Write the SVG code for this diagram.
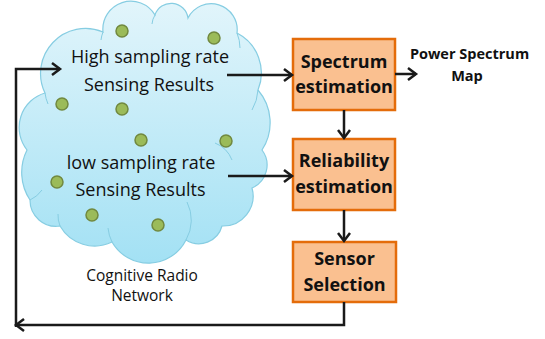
<svg xmlns="http://www.w3.org/2000/svg" width="545" height="339" viewBox="0 0 545 339">
<defs>
<linearGradient id="cg" x1="0" y1="0" x2="0" y2="1">
<stop offset="0" stop-color="#e2f5fb"/>
<stop offset="1" stop-color="#a3e1f4"/>
</linearGradient>
<marker id="ah" markerUnits="userSpaceOnUse" markerWidth="12" markerHeight="14" refX="9" refY="7" orient="auto">
<path d="M1,1 L9,7 L1,13" fill="none" stroke="#1a1a1a" stroke-width="2.5"/>
</marker>
<style>
.box{fill:#fac090;stroke:#e46c0a;stroke-width:2.5}
.bt{font-family:"Open Sans","Liberation Sans",sans-serif;font-weight:bold;font-size:18px;fill:#111;text-anchor:middle}
.ct{font-family:"Open Sans","Liberation Sans",sans-serif;font-size:18px;fill:#111;text-anchor:middle}
.lt{font-family:"Open Sans","Liberation Sans",sans-serif;font-size:15.5px;fill:#111;text-anchor:middle}
.pt{font-family:"Open Sans","Liberation Sans",sans-serif;font-weight:bold;font-size:14.5px;fill:#111;text-anchor:middle}
.dot{fill:#9bbb59;stroke:#71893f;stroke-width:1.5}
.ln{fill:none;stroke:#1a1a1a;stroke-width:2.5}
.inner{fill:none;stroke:#86cde2;stroke-width:1}
</style>
</defs>
<g id="cloud">
<path d="M45,93 A45,45 0 0 1 103,32 A28,28 0 0 1 155,15 A17,17 0 0 1 188,18 A26,26 0 0 1 237,33 A45,45 0 0 1 258,90 A50,50 0 0 1 262,150 A25,25 0 0 1 252,188 A30,30 0 0 1 222,226 A24,24 0 0 1 186,240 A42,42 0 0 1 112,242 A40,40 0 0 1 60,226 A26,26 0 0 1 30,200 A50,50 0 0 1 27,150 A36,36 0 0 1 45,93 Z" fill="url(#cg)" stroke="#86cde2" stroke-width="1.2"/>
<path class="inner" d="M103,32 A30,30 0 0 0 101,40"/>
<path class="inner" d="M155,15 A20,20 0 0 0 152,24"/>
<path class="inner" d="M237,33 A40,40 0 0 1 240,48"/>
<path class="inner" d="M258,90 A45,45 0 0 1 252,110"/>
<path class="inner" d="M215,143 A30,30 0 0 1 232,160"/>
<path class="inner" d="M187,202 A40,40 0 0 1 186,240"/>
<path class="inner" d="M112,242 A40,40 0 0 1 108,228"/>
<path class="inner" d="M60,226 A30,30 0 0 1 58,214"/>
<path class="inner" d="M30,200 A30,30 0 0 0 42,190"/>
<path class="inner" d="M45,93 A40,40 0 0 0 48,104"/>
<circle class="dot" cx="122" cy="31" r="6"/>
<circle class="dot" cx="214" cy="38" r="6"/>
<circle class="dot" cx="62" cy="104" r="6"/>
<circle class="dot" cx="122" cy="109" r="6"/>
<circle class="dot" cx="141" cy="140" r="6"/>
<circle class="dot" cx="226" cy="141" r="6"/>
<circle class="dot" cx="57" cy="182" r="6"/>
<circle class="dot" cx="92" cy="215" r="6"/>
<circle class="dot" cx="158" cy="225" r="6"/>
<text class="ct" x="150" y="63">High sampling rate</text>
<text class="ct" x="149" y="90.5">Sensing Results</text>
<text class="ct" x="141" y="169">low sampling rate</text>
<text class="ct" x="140.5" y="195.5">Sensing Results</text>
<text class="lt" x="142" y="280.5">Cognitive Radio</text>
<text class="lt" x="142" y="301">Network</text>
</g>
<g id="spectrum">
<rect class="box" x="293" y="39" width="102" height="71"/>
<text class="bt" x="344" y="68">Spectrum</text>
<text class="bt" x="344" y="93">estimation</text>
</g>
<g id="reliability">
<rect class="box" x="293" y="139" width="102" height="71"/>
<text class="bt" x="344" y="167">Reliability</text>
<text class="bt" x="344" y="193">estimation</text>
</g>
<g id="sensor">
<rect class="box" x="293" y="242" width="103" height="60"/>
<text class="bt" x="344.5" y="265">Sensor</text>
<text class="bt" x="344.5" y="291">Selection</text>
</g>
<g id="psm">
<text class="pt" x="469.5" y="59">Power Spectrum</text>
<text class="pt" x="467" y="80.5">Map</text>
</g>
<g id="connectors">
<path class="ln" d="M227,75 H292" marker-end="url(#ah)"/>
<path class="ln" d="M228,176 H292" marker-end="url(#ah)"/>
<path class="ln" d="M395,74 H416" marker-end="url(#ah)"/>
<path class="ln" d="M344,110 V138" marker-end="url(#ah)"/>
<path class="ln" d="M344,210 V241" marker-end="url(#ah)"/>
<path class="ln" d="M344,302 V325 H16" marker-end="url(#ah)"/>
<path class="ln" d="M16,327 V69 H60" marker-end="url(#ah)"/>
</g>
</svg>
